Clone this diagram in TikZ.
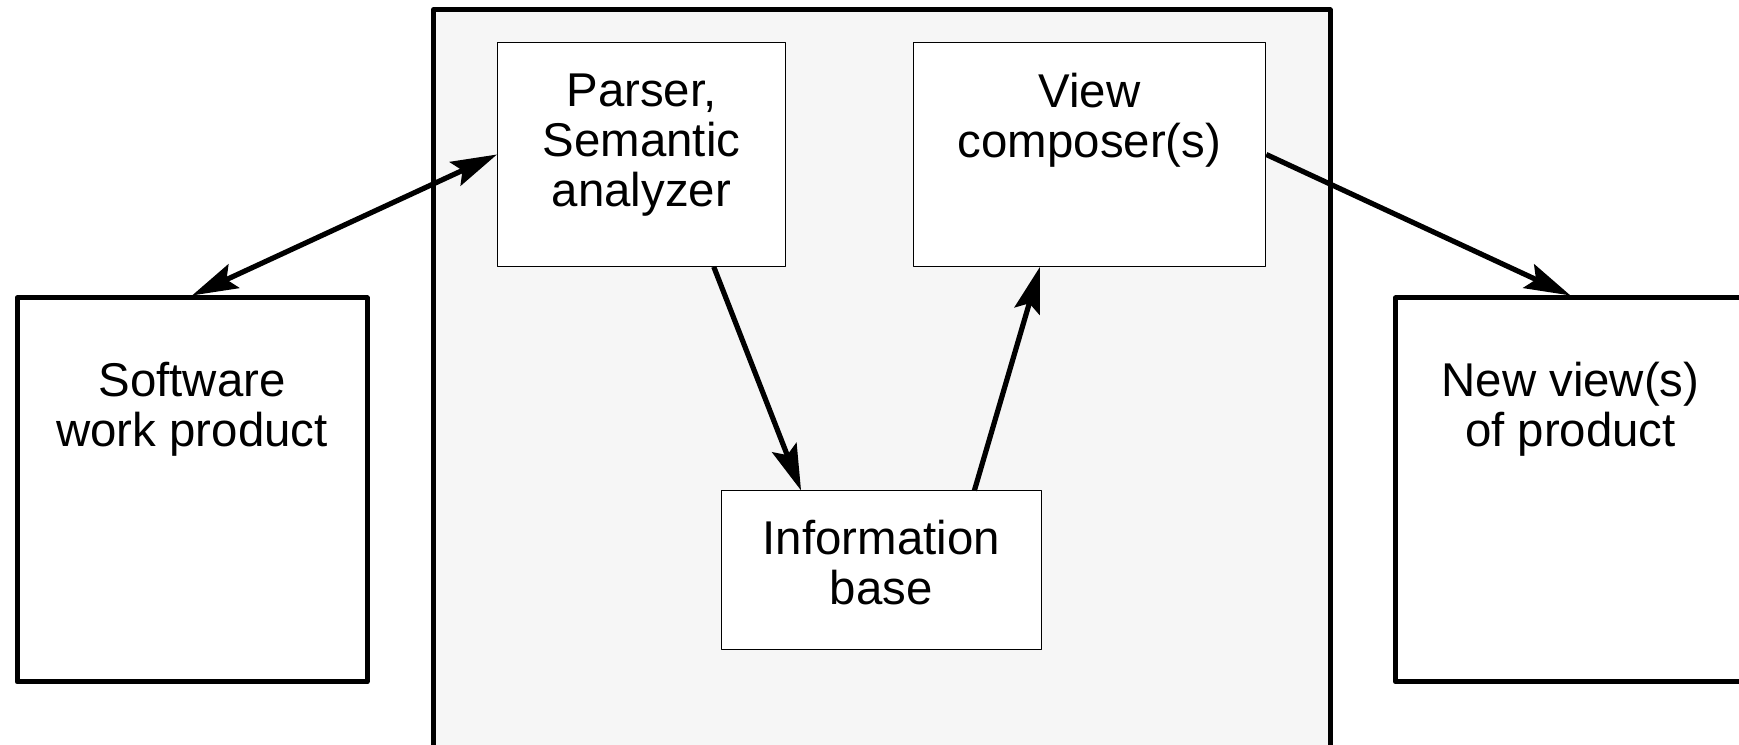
\documentclass[tikz,border=0pt]{standalone}
\usepackage{fontspec}
\setmainfont{Liberation Sans}
\usetikzlibrary{arrows.meta,calc}
\definecolor{Nen}{RGB}{246,246,246}
\begin{document}
\begin{tikzpicture}[line join = round,>={Stealth[length=23pt,width=13pt,inset=4pt]},x=0.5pt,y=0.5pt]
	\tikzset{Inner-box/.style={draw,fill=white,line width=0.5pt,inner sep=0pt},
		Side-box/.style={draw,fill=white,line width=2.5pt,inner sep=0pt,minimum width=175pt,minimum height=191.9pt},
		Box-text/.style={font=\fontsize{23.7}{25}\selectfont,align=center,inner sep=0pt,anchor=north},
		Link/.style={line width=2.6pt}}
	\useasboundingbox (0,0) rectangle (1739,744);
	\clip (0,0) rectangle (1739,744);
	\draw[line width=2.5pt,fill=Nen] (433.3,734) rectangle (1330,-20);
	\node[Inner-box,minimum width=144pt,minimum height=111.8pt,label={[Box-text,yshift=-15.4pt]north:{Parser,\\Semantic\\analyzer}}] (parser) at (641.5,589.5) {};
	\node[Inner-box,minimum width=176.3pt,minimum height=111.8pt,label={[Box-text,yshift=-15.4pt]north:{View\\composer(s)}}] (view) at (1089.5,589.5) {};
	\node[Inner-box,minimum width=160pt,minimum height=79.5pt,label={[Box-text,yshift=-14.6pt]north:{Information\\base}}] (info) at (881.3,173.5) {};
	\node[Side-box,label={[Box-text,yshift=-33pt]north:{Software\\work product}}] (software) at (192,254.1) {};
	\node[Side-box,label={[Box-text,yshift=-33.3pt]north:{New view(s)\\of product}}] (newview) at (1570.5,254.1) {};
	\draw[Link,<->] (software.north) -- (parser.west);
	\draw[Link,->] ($(parser.south west)!0.75!(parser.south east)$) -- ($(info.north west)!0.25!(info.north east)$);
	\draw[Link,->] ($(info.north west)!0.79!(info.north east)$) -- ($(view.south west)!0.36!(view.south east)$);
	\draw[Link,->] (view.east) -- (newview.north);
\end{tikzpicture}
\end{document}
